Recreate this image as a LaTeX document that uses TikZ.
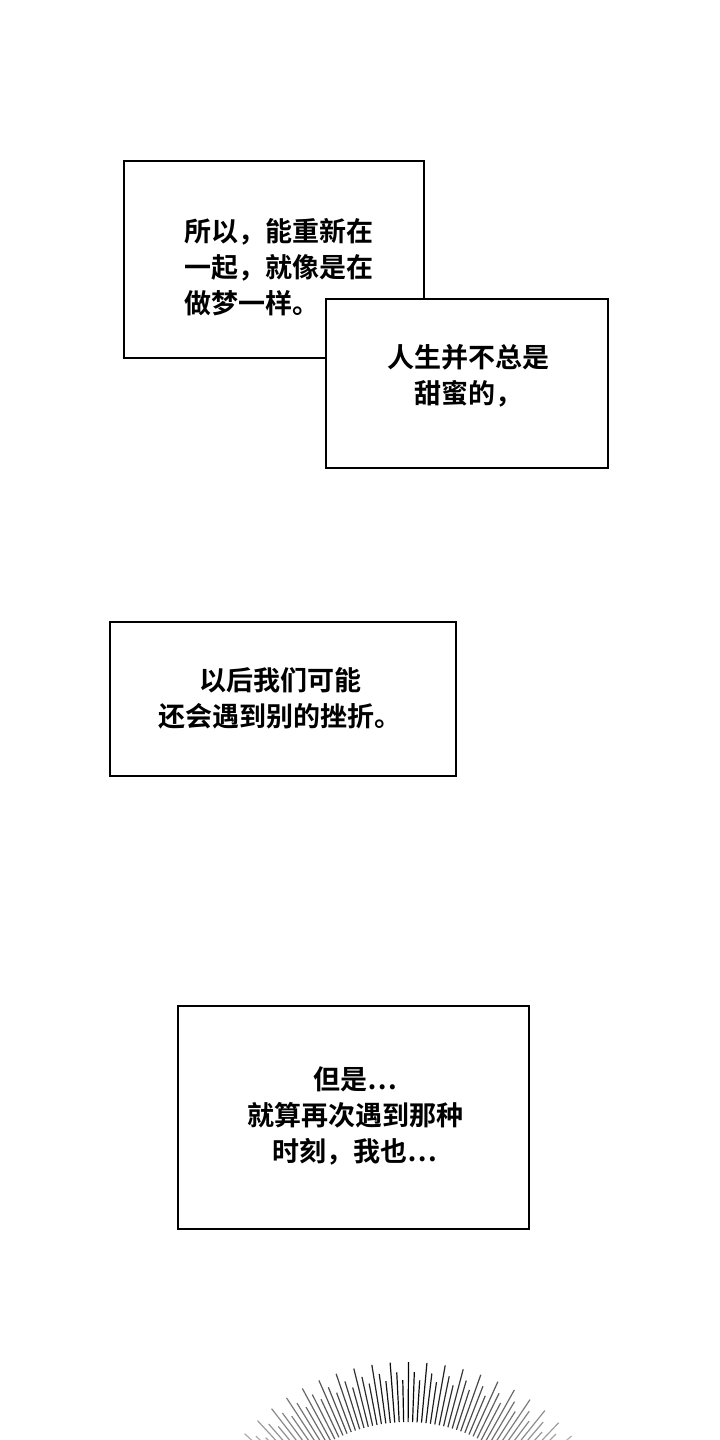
\documentclass[tikz,border=0pt]{standalone}
\usepackage{fontspec}
\newfontfamily\cjk[BoldFont={Noto Sans CJK SC Bold}]{Noto Sans CJK SC}
\begin{document}
\begin{tikzpicture}[x=1pt,y=-1pt,
  bubble/.style={draw=black,fill=white,line width=1.2pt},
  txt/.style={font=\cjk\bfseries\fontsize{27}{36}\selectfont,align=center,inner sep=0}]
\useasboundingbox (0,0) rectangle (720,1440);
\fill[white] (0,0) rectangle (720,1440);
\draw[bubble] (124,161) rectangle (424,358);
\draw[bubble] (326,299) rectangle (608,468);
\node[txt,align=left] (t1) at (279,267) {所以，能重新在\\一起，就像是在\\做梦一样。};
\node[txt] (t2) at (468,376) {人生并不总是\\甜蜜的，};
\draw[bubble] (110,622) rectangle (456,776);
\node[txt] (t3) at (280,698) {以后我们可能\\还会遇到别的挫折。};
\draw[bubble] (178,1006) rectangle (529,1229);
\node[txt] (t4) at (355,1116) {但是…\\就算再次遇到那种\\时刻，我也…};
\begin{scope}
\clip (0,0) rectangle (720,1440);
\foreach \a [count=\i] in {32,33.6,...,148}{
  \pgfmathsetmacro{\ro}{mod(\i,3)==0 ? 210 : (mod(\i,3)==1 ? 220 : 202)}
  \pgfmathsetmacro{\op}{max(0.25,1-abs(\a-90)/70)}
  \draw[black,opacity=\op,line width=1.2pt] (407,1582) ++(-\a:160) -- ++(-\a:\ro-160);
}
\end{scope}
\end{tikzpicture}
\end{document}
